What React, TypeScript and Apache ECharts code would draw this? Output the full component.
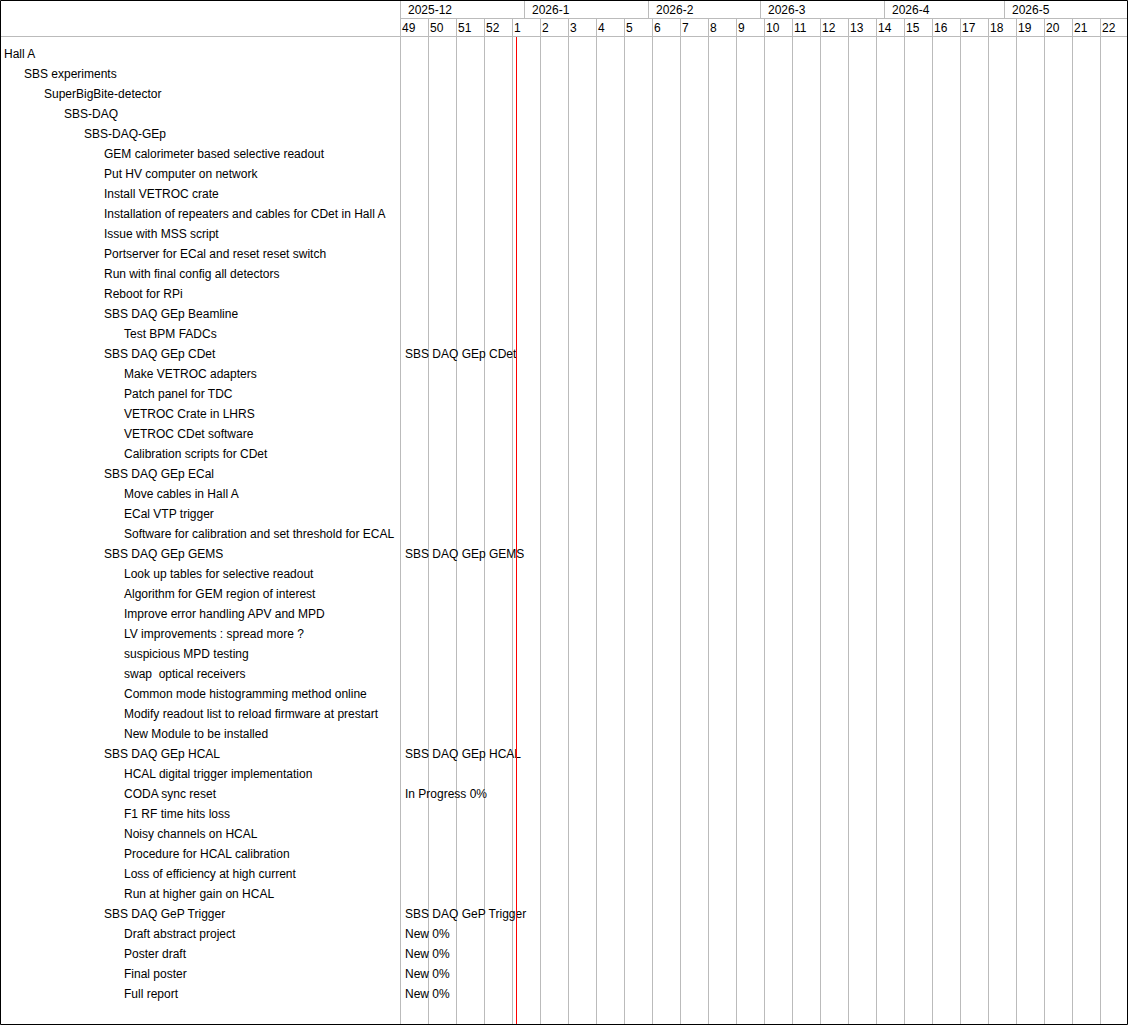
import React, { useEffect, useRef } from "react";
import * as echarts from "echarts";

// ---- data ----
const monthLabels = ["2025-12", "2026-1", "2026-2", "2026-3", "2026-4", "2026-5"];
const monthStartDays = [0, 31, 62, 90, 121, 151]; // days since 2025-12-01
const weekLabels = ["49", "50", "51", "52", "1", "2", "3", "4", "5", "6", "7", "8", "9", "10", "11", "12", "13", "14", "15", "16", "17", "18", "19", "20", "21", "22"];
const totalDays = 182; // 2025-12-01 .. 2026-06-01
const todayDay = 29; // 2025-12-30

const taskNames = [
  "Hall A",
  "SBS experiments",
  "SuperBigBite-detector",
  "SBS-DAQ",
  "SBS-DAQ-GEp",
  "GEM calorimeter based selective readout",
  "Put HV computer on network",
  "Install VETROC crate",
  "Installation of repeaters and cables for CDet in Hall A",
  "Issue with MSS script",
  "Portserver for ECal and reset reset switch",
  "Run with final config all detectors",
  "Reboot for RPi",
  "SBS DAQ GEp Beamline",
  "Test BPM FADCs",
  "SBS DAQ GEp CDet",
  "Make VETROC adapters",
  "Patch panel for TDC",
  "VETROC Crate in LHRS",
  "VETROC CDet software",
  "Calibration scripts for CDet",
  "SBS DAQ GEp ECal",
  "Move cables in Hall A",
  "ECal VTP trigger",
  "Software for calibration and set threshold for ECAL",
  "SBS DAQ GEp GEMS",
  "Look up tables for selective readout",
  "Algorithm for GEM region of interest",
  "Improve error handling APV and MPD",
  "LV improvements : spread more ?",
  "suspicious MPD testing",
  "swap  optical receivers",
  "Common mode histogramming method online",
  "Modify readout list to reload firmware at prestart",
  "New Module to be installed",
  "SBS DAQ GEp HCAL",
  "HCAL digital trigger implementation",
  "CODA sync reset",
  "F1 RF time hits loss",
  "Noisy channels on HCAL",
  "Procedure for HCAL calibration",
  "Loss of efficiency at high current",
  "Run at higher gain on HCAL",
  "SBS DAQ GeP Trigger",
  "Draft abstract project",
  "Poster draft",
  "Final poster",
  "Full report",
];
const taskLevels = [
  0, 1, 2, 3, 4, 5, 5, 5, 5, 5, 5, 5, 5, 5, 6, 5, 6, 6, 6, 6, 6, 5, 6, 6, 6, 5,
  6, 6, 6, 6, 6, 6, 6, 6, 6, 5, 6, 6, 6, 6, 6, 6, 6, 5, 6, 6, 6, 6,
];
const barRows = [15, 25, 35, 37, 43, 44, 45, 46, 47];
const barLabels = [
  "SBS DAQ GEp CDet",
  "SBS DAQ GEp GEMS",
  "SBS DAQ GEp HCAL",
  "In Progress 0%",
  "SBS DAQ GeP Trigger",
  "New 0%",
  "New 0%",
  "New 0%",
  "New 0%",
];

const FONT = '12px "Liberation Sans", Arial, Helvetica, sans-serif';
const GRID_COLOR = "#bbbbbb";
const TEXT_DY = 1;
// y units: rows; header rows sit at negative values
const Y_MIN = -2.65;
const Y_MAX = 48.6;
const Y_MONTH_TOP = -2.65;
const Y_MONTH_MID = -2.2;
const Y_WEEK_TOP = -1.75;
const Y_WEEK_MID = -1.3;
const Y_BODY_TOP = -0.8;

const crisp = (v: number) => Math.round(v) + 0.5;

export default function App() {
  const ref = useRef<HTMLDivElement>(null);
  useEffect(() => {
    if (!ref.current) return;
    const chart = echarts.init(ref.current, null, { renderer: "svg" });
    const option: any = {
      animation: false,
      grid: [{ left: 400, right: 1, top: 0, bottom: 1 }],
      xAxis: [{ type: "value", min: 0, max: totalDays, show: false }],
      yAxis: [{ type: "value", min: Y_MIN, max: Y_MAX, inverse: true, show: false }],
      graphic: [
        {
          type: "line",
          shape: { x1: 0, y1: 36.5, x2: 1128, y2: 36.5 },
          style: { stroke: GRID_COLOR, lineWidth: 1 },
          z: 5,
        },
        {
          type: "line",
          shape: { x1: 400, y1: 18.5, x2: 1128, y2: 18.5 },
          style: { stroke: GRID_COLOR, lineWidth: 1 },
          z: 5,
        },
        {
          type: "rect",
          shape: { x: 0.5, y: 0.5, width: 1127, height: 1024 },
          style: { stroke: "#000", fill: "none", lineWidth: 1 },
          z: 100,
        },
      ],
      series: [
        {
          type: "custom",
          name: "months",
          clip: false,
          data: monthStartDays.map((d) => [d, Y_MONTH_MID]),
          renderItem: (params: any, api: any) => {
            const top = api.coord([api.value(0), Y_MONTH_TOP]);
            const bot = api.coord([api.value(0), Y_WEEK_TOP]);
            const mid = api.coord([api.value(0), Y_MONTH_MID]);
            const x = crisp(top[0]);
            return {
              type: "group",
              children: [
                {
                  type: "line",
                  shape: { x1: x, y1: top[1], x2: x, y2: bot[1] },
                  style: { stroke: GRID_COLOR, lineWidth: 1 },
                },
                {
                  type: "text",
                  x: Math.round(top[0]) + 8,
                  y: mid[1] + TEXT_DY,
                  style: {
                    text: monthLabels[params.dataIndex],
                    fill: "#000",
                    font: FONT,
                    align: "left",
                    verticalAlign: "middle",
                  },
                },
              ],
            };
          },
        },
        {
          type: "custom",
          name: "weeks",
          clip: false,
          data: weekLabels.map((_, i) => [i * 7, Y_WEEK_MID]),
          renderItem: (params: any, api: any) => {
            const top = api.coord([api.value(0), Y_WEEK_TOP]);
            const bot = api.coord([api.value(0), Y_MAX]);
            const mid = api.coord([api.value(0), Y_WEEK_MID]);
            const x = crisp(top[0]);
            return {
              type: "group",
              children: [
                {
                  type: "line",
                  shape: { x1: x, y1: top[1], x2: x, y2: bot[1] },
                  style: { stroke: GRID_COLOR, lineWidth: 1 },
                },
                {
                  type: "text",
                  x: Math.round(top[0]) + 2,
                  y: mid[1] + TEXT_DY,
                  style: {
                    text: weekLabels[params.dataIndex],
                    fill: "#000",
                    font: FONT,
                    align: "left",
                    verticalAlign: "middle",
                  },
                },
              ],
            };
          },
        },
        {
          type: "custom",
          name: "tasks",
          clip: false,
          data: taskNames.map((_, i) => [0, i]),
          renderItem: (params: any, api: any) => {
            const p = api.coord([0, api.value(1)]);
            return {
              type: "text",
              x: 4 + 20 * taskLevels[params.dataIndex],
              y: p[1] + TEXT_DY,
              style: {
                text: taskNames[params.dataIndex],
                fill: "#000",
                font: FONT,
                align: "left",
                verticalAlign: "middle",
              },
            };
          },
        },
        {
          type: "custom",
          name: "barLabels",
          clip: false,
          z: 3,
          data: barRows.map((r) => [0, r]),
          renderItem: (params: any, api: any) => {
            const p = api.coord([api.value(0), api.value(1)]);
            return {
              type: "text",
              x: Math.round(p[0]) + 5,
              y: p[1] + TEXT_DY,
              style: {
                text: barLabels[params.dataIndex],
                fill: "#000",
                font: FONT,
                align: "left",
                verticalAlign: "middle",
              },
            };
          },
        },
        {
          type: "custom",
          name: "today",
          clip: false,
          z: 4,
          data: [[todayDay, Y_BODY_TOP]],
          renderItem: (params: any, api: any) => {
            const top = api.coord([api.value(0), Y_BODY_TOP]);
            const bot = api.coord([api.value(0), Y_MAX]);
            const x = crisp(top[0]);
            return {
              type: "line",
              shape: { x1: x, y1: top[1], x2: x, y2: bot[1] },
              style: { stroke: "#ff0000", lineWidth: 1 },
            };
          },
        },
      ],
    };
    chart.setOption(option);
    return () => chart.dispose();
  }, []);
  return (
    <div
      ref={ref}
      style={{ position: "absolute", left: 0, top: 0, width: 1129, height: 1026, background: "#fff" }}
    />
  );
}
